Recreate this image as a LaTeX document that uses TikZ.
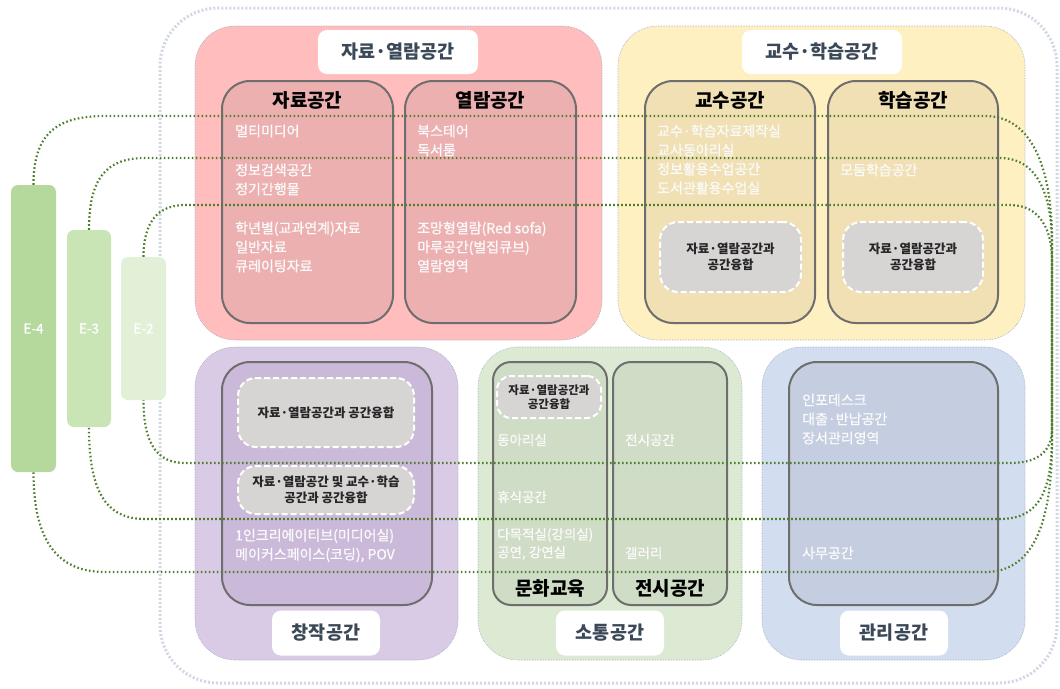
\documentclass[tikz,border=0pt]{standalone}
\usepackage{fontspec}
\setmainfont{Noto Sans CJK KR}
\newfontfamily\bodyfont[FakeBold=0.9]{Noto Sans CJK KR}
\definecolor{pinkO}{HTML}{FFBDBD}
\definecolor{pinkI}{HTML}{EDB0B0}
\definecolor{yelO}{HTML}{FFF0C2}
\definecolor{yelI}{HTML}{F0E0B4}
\definecolor{purO}{HTML}{D9CAE6}
\definecolor{purI}{HTML}{CAB9D8}
\definecolor{grnO}{HTML}{DDEAD3}
\definecolor{grnI}{HTML}{CFDCC6}
\definecolor{bluO}{HTML}{D2DEF0}
\definecolor{bluI}{HTML}{C4CEE0}
\definecolor{fuseF}{HTML}{D7D4D4}
\definecolor{frameC}{HTML}{D0D7E5}
\definecolor{edgeC}{HTML}{9CA6B8}
\definecolor{innerC}{HTML}{6E6E6E}
\definecolor{titleC}{HTML}{3B4858}
\definecolor{loopC}{HTML}{4E7D2C}
\definecolor{eFour}{HTML}{B5D99C}
\definecolor{eThree}{HTML}{C9E4B5}
\definecolor{eTwo}{HTML}{E2F0D8}
\definecolor{txtW}{HTML}{FAFAFA}
\tikzset{
  zonebox/.style={rectangle, rounded corners=40, draw=edgeC, line width=0.6, densely dotted, inner sep=0},
  roombox/.style={rectangle, rounded corners=28, draw=innerC, line width=2, inner sep=0},
  fusebox/.style={rectangle, rounded corners=18, fill=fuseF, draw=white, dash pattern=on 6 off 3, line width=2, inner sep=0, align=center, text=black!85, font=\fontsize{12.5}{15.5}\selectfont\bfseries},
  pillbox/.style={rectangle, rounded corners=9, fill=white, inner sep=0, text=titleC, font=\fontsize{18.5}{20}\selectfont\bfseries},
  hdr/.style={inner sep=0, text=black, font=\fontsize{19}{21}\selectfont\bfseries},
  body/.style={inner sep=0, anchor=west, align=left, text=txtW, font=\bodyfont\fontsize{14}{19}\selectfont},
  ebar/.style={rectangle, rounded corners=7, inner sep=0, text=white, font=\bodyfont\fontsize{13.5}{15}\selectfont},
  loopline/.style={draw=loopC, line width=2.2, dash pattern=on 1.6 off 2.4},
}
\begin{document}
\begin{tikzpicture}[x=1pt,y=-1pt]
\useasboundingbox (0,0) rectangle (1060,688);
% outer frame
\draw[frameC, line width=3, dash pattern=on 2 off 2, rounded corners=58] (160,8) rectangle (1057,683);
% zones
\node[zonebox, fill=pinkO, minimum width=407, minimum height=314] (zpink) at (398.5,183) {};
\node[zonebox, fill=yelO, minimum width=407, minimum height=314] (zyel) at (821.5,183) {};
\node[zonebox, fill=purO, minimum width=263, minimum height=313] (zpur) at (326.5,503.5) {};
\node[zonebox, fill=grnO, minimum width=264, minimum height=313] (zgrn) at (610,503.5) {};
\node[zonebox, fill=bluO, minimum width=263, minimum height=313] (zblu) at (893.5,503.5) {};
% rooms
\node[roombox, fill=pinkI, minimum width=171, minimum height=242] (r1) at (307.5,202) {};
\node[roombox, fill=pinkI, minimum width=171, minimum height=242] (r2) at (490.5,202) {};
\node[roombox, fill=yelI, minimum width=170, minimum height=242] (r3) at (730,202) {};
\node[roombox, fill=yelI, minimum width=170, minimum height=242] (r4) at (913,202) {};
\node[roombox, fill=purI, minimum width=210, minimum height=243] (r5) at (327,483.5) {};
\node[roombox, fill=grnI, rounded corners=18, minimum width=114, minimum height=243] (r6) at (550,483.5) {};
\node[roombox, fill=grnI, rounded corners=18, minimum width=114, minimum height=243] (r7) at (670,483.5) {};
\node[roombox, fill=bluI, minimum width=209, minimum height=243] (r8) at (893.5,483.5) {};
% E bars
\node[ebar, fill=eFour, minimum width=45, minimum height=287] (e4) at (33.5,328.5) {E-4};
\node[ebar, fill=eThree, minimum width=44, minimum height=197] (e3) at (89,328.5) {E-3};
\node[ebar, fill=eTwo, minimum width=45, minimum height=143] (e2) at (143.5,328.5) {E-2};
% loops
\draw[loopline] (e4.north) .. controls (33.5,135) and (55,116) .. (105,116) -- (985,116)
  .. controls (1035,116) and (1052,175) .. (1052,240) -- (1052,440)
  .. controls (1052,520) and (1035,572) .. (985,572) -- (105,572)
  .. controls (50,572) and (33.5,530) .. (e4.south);
\draw[loopline] (e3.north) .. controls (89,180) and (105,158) .. (145,158) -- (1000,158)
  .. controls (1040,158) and (1052,200) .. (1052,245) -- (1052,435)
  .. controls (1052,490) and (1040,519) .. (1000,519) -- (145,519)
  .. controls (105,519) and (89,490) .. (e3.south);
\draw[loopline] (e2.north) .. controls (143.5,222) and (158,205) .. (185,205) -- (1010,205)
  .. controls (1040,205) and (1052,230) .. (1052,260) -- (1052,428)
  .. controls (1052,450) and (1040,463) .. (1010,463) -- (185,463)
  .. controls (158,463) and (143.5,445) .. (e2.south);
% pills
\node[pillbox, minimum width=160, minimum height=44] (t1) at (398,52) {자료·열람공간};
\node[pillbox, minimum width=160, minimum height=44] (t2) at (822,52) {교수·학습공간};
\node[pillbox, minimum width=108, minimum height=45] (t3) at (326,633) {창작공간};
\node[pillbox, minimum width=108, minimum height=45] (t4) at (610,633) {소통공간};
\node[pillbox, minimum width=108, minimum height=45] (t5) at (894,633) {관리공간};
% headers
\node[hdr] (h1) at (307.5,100) {자료공간};
\node[hdr] (h2) at (490.5,100) {열람공간};
\node[hdr] (h3) at (730,100) {교수공간};
\node[hdr] (h4) at (913,100) {학습공간};
\node[hdr] (h5) at (550,588) {문화교육};
\node[hdr] (h6) at (670,588) {전시공간};
% fusion boxes
\node[fusebox, minimum width=141, minimum height=70] (f1) at (730.5,257) {자료·열람공간과\\공간융합};
\node[fusebox, minimum width=140, minimum height=70] (f2) at (913,257) {자료·열람공간과\\공간융합};
\node[fusebox, minimum width=176, minimum height=69] (f3) at (326,412.5) {자료·열람공간과 공간융합};
\node[fusebox, minimum width=176, minimum height=48] (f4) at (326,490) {자료·열람공간 및 교수·학습\\공간과 공간융합};
\node[fusebox, rounded corners=14, minimum width=104, minimum height=42, font=\fontsize{11.5}{14}\selectfont\bfseries] (f5) at (549,397) {자료·열람공간과\\공간융합};
% body texts
\node[body] (b1) at (235,131) {멀티미디어};
\node[body] (b2) at (235,179.5) {정보검색공간\\정기간행물};
\node[body] (b3) at (235,247) {학년별(교과연계)자료\\일반자료\\큐레이팅자료};
\node[body] (b4) at (417,140.5) {북스테어\\독서룸};
\node[body] (b5) at (417,247) {조망형열람(Red sofa)\\마루공간(벌집큐브)\\열람영역};
\node[body] (b6) at (657,159.5) {교수·학습자료제작실\\교사동아리실\\정보활용수업공간\\도서관활용수업실};
\node[body] (b7) at (840,170) {모둠학습공간};
\node[body] (b8) at (235,545.5) {1인크리에이티브(미디어실)\\메이커스페이스(코딩), POV};
\node[body, font=\bodyfont\fontsize{13.5}{18}\selectfont] (b9) at (497,440) {동아리실};
\node[body, font=\bodyfont\fontsize{13.5}{18}\selectfont] (b10) at (497,497) {휴식공간};
\node[body, font=\bodyfont\fontsize{13.5}{18}\selectfont] (b11) at (497,544) {다목적실(강의실)\\공연, 강연실};
\node[body, font=\bodyfont\fontsize{13.5}{18}\selectfont] (b12) at (625,440) {전시공간};
\node[body, font=\bodyfont\fontsize{13.5}{18}\selectfont] (b13) at (625,553) {갤러리};
\node[body] (b14) at (802,419) {인포데스크\\대출·반납공간\\장서관리영역};
\node[body] (b15) at (802,553) {사무공간};
\end{tikzpicture}
\end{document}
